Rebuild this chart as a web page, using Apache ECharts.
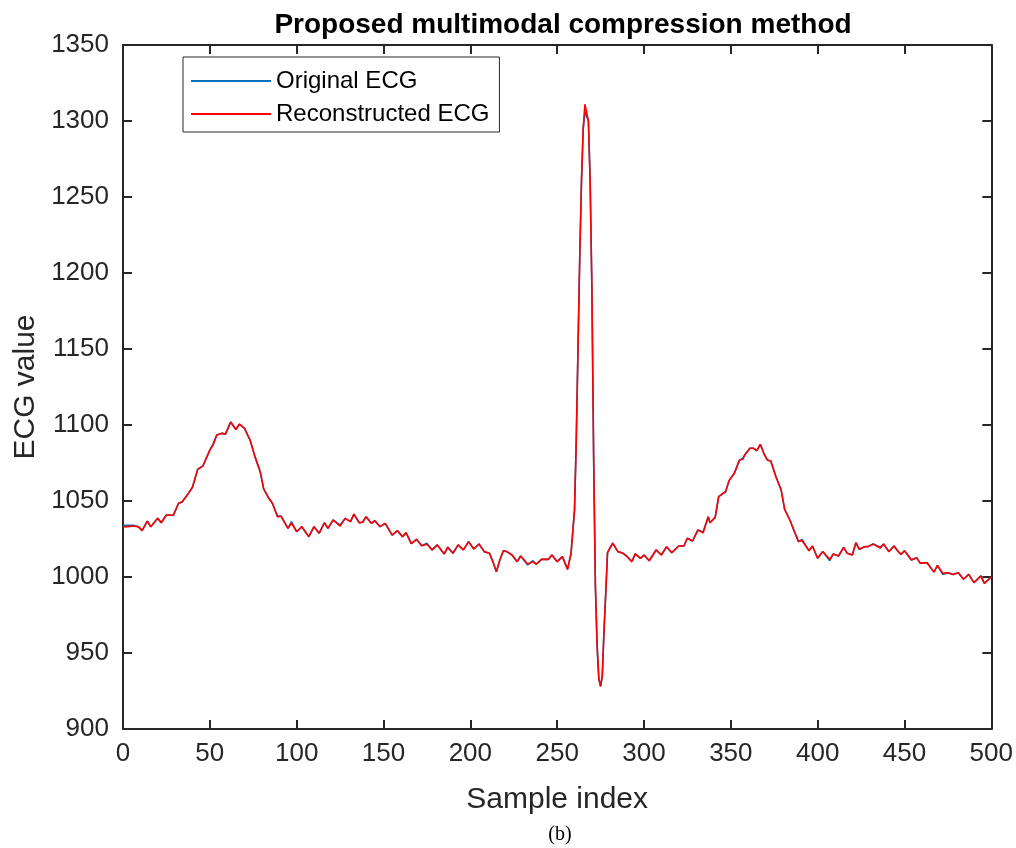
<!DOCTYPE html>
<html>
<head>
<meta charset="utf-8">
<script src="https://cdn.jsdelivr.net/npm/echarts@6/dist/echarts.min.js"></script>
<style>html,body{margin:0;padding:0;background:#fff;}#c{width:1016px;height:848px;}</style>
</head>
<body>
<div id="c"></div>
<script>
var sampleIndex = [0,6,9,11,14,16,17,20,22,25,
29,32,34,37,40,43,46,50,52,54,
57,59,62,63,65,67,70,72,73,76,
79,81,84,86,89,91,95,97,100,103,
107,110,113,116,118,121,125,128,131,133,
136,138,140,143,145,148,151,155,158,161,
163,166,169,172,175,178,181,185,187,190,
193,196,199,202,205,208,211,213,215,217,
219,221,222,224,227,229,233,236,238,241,
245,247,250,253,256,258,260,261,262,263,
264,265,266,267,268,269,270,271,272,273,
274,275,276,277,278,279,282,285,288,290,
293,295,298,300,303,307,310,313,316,320,
323,325,328,331,334,337,338,341,343,345,
347,349,352,355,357,358,361,363,365,367,
369,371,373,376,379,381,384,387,389,391,
395,397,400,403,407,409,412,415,417,420,
422,424,427,429,432,436,438,441,444,446,
448,450,454,457,459,463,467,469,472,475,
478,481,484,487,490,494,496,499,500];

var originalECG = [1034,1034,1033,1030.5,1036.8,1033,1031.8,1038.6,1035.7,1040.8,
1040.6,1048.5,1049.3,1053.9,1059,1070.8,1073,1083.5,1087.9,1093.4,
1094.5,1094,1102,1101,1097,1100.5,1097.8,1092.8,1090.6,1079.2,
1069.3,1058,1051.8,1048.5,1040.1,1040.1,1032,1036.4,1029.8,1033.1,
1026.5,1033.1,1028.8,1035.7,1032,1037.5,1034.2,1038.6,1036.4,1041.4,
1035.7,1036,1039.7,1035.3,1037,1033.1,1035.3,1027.6,1030.5,1026.5,
1029.2,1021.9,1024.8,1020.6,1022.2,1017.8,1021.1,1015.2,1019.6,1015.6,
1021.1,1017.8,1023.3,1018.4,1021.7,1016.7,1015.6,1010.1,1003.5,1011.2,
1017.3,1016.7,1017.8,1014.5,1010.1,1013.8,1007.9,1010.7,1008.5,1011.6,
1011.6,1014.5,1010.1,1013.4,1005,1015.6,1044,1090,1150,1210,
1260,1295,1306,1307,1300,1260,1190,1080,995,955,
933,928,935,965,990,1016,1022.2,1016.7,1015.6,1013.8,
1010.1,1015.2,1012.3,1014.5,1010.7,1017.8,1014.5,1019.9,1016,1020.4,
1020.4,1025.5,1023.7,1030.9,1029.6,1039.7,1035.7,1039.2,1052.8,1054.6,
1056.1,1063.4,1068.2,1077,1078.1,1080.3,1084.7,1084.7,1083.1,1087.3,
1081.4,1077,1076.3,1066,1057.2,1044.5,1037.5,1028.8,1023.3,1024.8,
1017.3,1020.4,1012.3,1016.7,1010.7,1015.2,1013.8,1019.5,1015.6,1014.5,
1022.6,1018.2,1019.9,1020,1021.7,1019.6,1021.7,1016.7,1020.4,1017.3,
1014.9,1017.3,1011.2,1012.7,1009.1,1009.4,1003.2,1007.6,1001.7,1002.8,
1001.7,1002.8,998.5,1001.7,996.3,1000.7,995.8,999,1000];

var reconstructedECG = [1033,1033.5,1033,1030.5,1036.8,1033,1031.8,1038.6,1035.7,1040.8,
1040.6,1048.5,1049.3,1053.9,1059,1070.8,1073,1083.5,1087.2,1093.4,
1094.5,1094,1102,1101,1097,1100.5,1097.8,1092.8,1090.6,1079.2,
1069.3,1058,1051.8,1048.5,1039.5,1040.1,1032,1035.5,1029.8,1033.1,
1026.5,1033.1,1028.8,1035.7,1032,1037.5,1033.5,1038.6,1036.4,1041.4,
1035.7,1036,1039.7,1035.3,1037,1033.1,1035.3,1027.6,1030.5,1026.5,
1029.2,1021.9,1024.8,1020.6,1021.5,1017.8,1021.1,1015.2,1019.6,1015.6,
1021.1,1017.8,1023.3,1018.4,1021.7,1016.7,1015.6,1010.1,1003.5,1011.2,
1017.3,1016.7,1017.8,1014.5,1010.1,1013.8,1008.5,1010,1008.5,1011.6,
1011.6,1014.5,1010.1,1013.4,1005,1015.6,1044,1090,1150,1210,
1260,1295,1311,1312,1300,1260,1190,1080,995,955,
933,928,935,965,990,1016,1022.2,1016.7,1015.6,1013.8,
1010.1,1015.2,1012.3,1014.5,1010.7,1017.8,1014.5,1019.9,1016,1020.4,
1020.4,1025.5,1023.7,1030.9,1029,1039.7,1035.7,1039.2,1052.8,1054.6,
1056.1,1063.4,1068.2,1077,1077.5,1080.3,1084.7,1084.7,1083.1,1087.3,
1081.4,1077,1076.3,1066,1057.2,1044.5,1037.5,1028.8,1023.3,1024,
1017.3,1020.4,1012.3,1016.7,1011.5,1015.2,1013.8,1019.5,1015.6,1014.5,
1022.6,1018.2,1019.9,1020,1021.7,1019,1021.7,1016.7,1020.4,1017.3,
1014.9,1017.3,1011.2,1012.7,1009.1,1009.4,1003.2,1007.6,1002.5,1002.8,
1001.7,1002.8,998.5,1001.7,996.3,1000.7,995.8,999,1000];

var xTicks = {min: 0, max: 500, interval: 50};
var yTicks = {min: 900, max: 1350, interval: 50};

function pairs(xs, ys) { return xs.map(function (x, k) { return [x, ys[k]]; }); }

var axisColor = '#262626';
var font = "'Liberation Sans', Arial, Helvetica, sans-serif";
function plain(v) { return String(v); }

function makeAxis(base, pos, showLabel, extra) {
  var a = {
    type: 'value', position: pos, min: base.min, max: base.max, interval: base.interval,
    axisLine: {show: true, onZero: false, lineStyle: {color: axisColor, width: 2}},
    axisTick: {show: true, inside: true, length: 9, lineStyle: {color: axisColor, width: 2}},
    axisLabel: {show: showLabel, color: axisColor, fontSize: 26, fontFamily: font, formatter: plain},
    splitLine: {show: false}
  };
  for (var k in extra) a[k] = extra[k];
  return a;
}

var chart = echarts.init(document.getElementById('c'), null, {renderer: 'canvas'});
chart.setOption({
  animation: false,
  backgroundColor: '#ffffff',
  title: [
    {text: 'Proposed multimodal compression method', left: 558, top: 6, textAlign: 'center',
     textStyle: {fontFamily: font, fontWeight: 'bold', fontSize: 28, color: '#000'}},
    {text: '(b)', left: 555, top: 820, textAlign: 'center',
     textStyle: {fontFamily: "'Liberation Serif', 'Times New Roman', serif", fontWeight: 'normal', fontSize: 20, color: '#000'}}
  ],
  grid: {left: 123, right: 23, top: 45, bottom: 119, containLabel: false},
  legend: {
    orient: 'vertical', left: 183, top: 57,
    icon: 'rect', itemWidth: 80, itemHeight: 2, itemGap: 9,
    padding: [12, 10, 6, 8],
    borderColor: '#262626', borderWidth: 1, backgroundColor: '#fff',
    textStyle: {fontFamily: font, fontSize: 24, color: '#000', lineHeight: 24},
    data: ['Original ECG', 'Reconstructed ECG']
  },
  xAxis: [
    makeAxis(xTicks, 'bottom', true, {name: 'Sample index', nameLocation: 'middle', nameGap: 56,
      nameTextStyle: {fontFamily: font, fontSize: 30, color: axisColor}, axisLabel: {show: true, color: axisColor, fontSize: 26, fontFamily: font, margin: 12, formatter: plain}}),
    makeAxis(xTicks, 'top', false, {})
  ],
  yAxis: [
    makeAxis(yTicks, 'left', true, {name: 'ECG value', nameLocation: 'middle', nameGap: 74,
      nameTextStyle: {fontFamily: font, fontSize: 30, color: axisColor}, axisLabel: {show: true, color: axisColor, fontSize: 26, fontFamily: font, margin: 14, formatter: plain}}),
    makeAxis(yTicks, 'right', false, {})
  ],
  series: [
    {name: 'Original ECG', type: 'line', xAxisIndex: 0, yAxisIndex: 0, symbol: 'none',
     lineStyle: {color: '#0072BD', width: 1.6}, itemStyle: {color: '#0072BD'},
     data: pairs(sampleIndex, originalECG)},
    {name: 'Reconstructed ECG', type: 'line', xAxisIndex: 0, yAxisIndex: 0, symbol: 'none',
     lineStyle: {color: '#FF0000', width: 1.6}, itemStyle: {color: '#FF0000'},
     data: pairs(sampleIndex, reconstructedECG)}
  ]
});
</script>
</body>
</html>
